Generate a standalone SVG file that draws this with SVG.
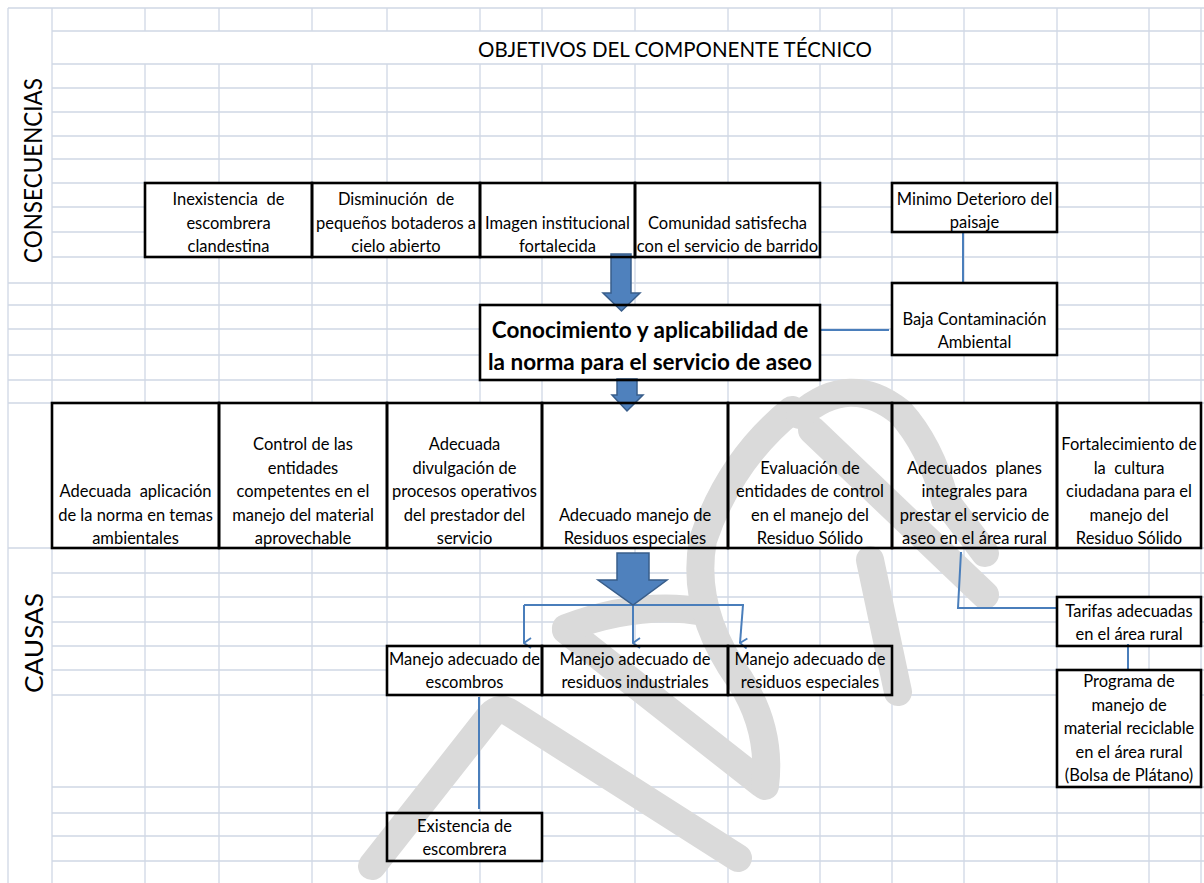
<svg xmlns="http://www.w3.org/2000/svg" width="1204" height="883" viewBox="0 0 1204 883">
<defs>
<style>
.g{stroke:#d0d7e5;stroke-width:1.3;fill:none}
.box{fill:#fff;stroke:none}
.bd{fill:none;stroke:#000;stroke-width:2.6}
.t{font-family:Lato,"Liberation Sans",sans-serif;font-size:16.5px;fill:#000;text-anchor:middle}
.tb{font-family:Lato,"Liberation Sans",sans-serif;font-size:22.5px;font-weight:bold;fill:#000;text-anchor:middle}
.big{font-family:Lato,"Liberation Sans",sans-serif;font-size:25px;fill:#000;text-anchor:middle}
.pre{white-space:pre}
.c{stroke:#4a7ebb;stroke-width:2;fill:none}
.ba{fill:#4f81bd;stroke:#385d8a;stroke-width:1.5}
.wm{fill:none;stroke:#dadada;stroke-width:28;stroke-linecap:round;stroke-linejoin:round}
</style>
<marker id="ah" viewBox="0 0 12 12" refX="6" refY="11" markerWidth="12" markerHeight="12" markerUnits="userSpaceOnUse" orient="auto-start-reverse">
<path d="M1 4 L6 11 L11 4" fill="none" stroke="#4a7ebb" stroke-width="1.8"/>
</marker>
</defs>
<rect width="1204" height="883" fill="#fff"/>
<g id="grid">
<path class="g" d="M8 8V883M52 8V883M145 8V31M145 64V883M219 8V31M219 64V883M312 8V31M312 64V883M387 8V31M387 64V883M480 8V31M480 64V883M542 8V31M542 64V883M635 8V31M635 64V883M728 8V31M728 64V883M820 8V31M820 64V883M892 8V883M964 8V883M1057 8V883M1149 8V883M1201 8V883"/>
<path class="g" d="M8 8H1204M52 31H1204M52 64H1204M52 88H1204M52 112H1204M52 136H1204M52 159H1204M52 183H1204M52 207H1204M52 232H1204M52 257H1204M8 283H1204M8 305H1204M8 329H1204M8 355H1204M8 380H1204M8 403H1204M8 548H1204M52 573H1204M52 597H1204M52 622H1204M52 646H1204M52 670H1204M52 695H1204M52 787H1204M52 813H1204M52 836H1204M52 861H1204"/>
</g>
<g id="fills">
<rect class="box" x="145" y="183" width="675" height="74"/>
<rect class="box" x="892" y="183" width="165" height="49"/>
<rect class="box" x="892" y="283" width="165" height="72"/>
<rect class="box" x="480" y="305" width="340" height="75"/>
<rect class="box" x="52" y="403" width="1149" height="145"/>
<rect class="box" x="387" y="646" width="505" height="49"/>
<rect class="box" x="387" y="813" width="155" height="48"/>
<rect class="box" x="1057" y="597" width="144" height="49"/>
<rect class="box" x="1057" y="670" width="144" height="117"/>
</g>
<g id="watermark">
<path class="wm" d="M372 866 L490 716 Q500 705 512 714 L738 858"/>
<path class="wm" d="M566 630 L762 784"/>
<path class="wm" d="M566 628 Q640 600 705 612"/>
<path class="wm" d="M792 410 Q730 460 703 540 Q690 610 740 680 Q772 730 765 786"/>
<path class="wm" d="M812 430 L985 595"/>
<path class="wm" d="M800 415 Q850 372 900 412 Q930 445 945 500 L985 553"/>
<path class="wm" d="M870 560 Q885 630 898 692"/>
</g>
<text class="big" transform="translate(42,170.5) rotate(-90)" textLength="185" lengthAdjust="spacingAndGlyphs">CONSECUENCIAS</text>
<text class="big" transform="translate(43,643) rotate(-90)" textLength="100" lengthAdjust="spacingAndGlyphs">CAUSAS</text>
<text class="big" x="675" y="57" style="font-size:21.5px" textLength="394" lengthAdjust="spacingAndGlyphs">OBJETIVOS DEL COMPONENTE TÉCNICO</text>
<g id="connectors">
<path class="c" d="M963 233V282"/>
<path class="c" d="M820 330H889"/>
<path class="c" d="M524 605H744"/>
<path class="c" d="M524 605V643" marker-end="url(#ah)"/>
<path class="c" d="M633 605V643" marker-end="url(#ah)"/>
<path class="c" d="M743 605L740 643" marker-end="url(#ah)"/>
<path class="c" d="M479 697V809"/>
<path class="c" d="M961 552L958 608H1056"/>
<path class="c" d="M1128 644V669"/>
<path class="ba" d="M611 254H631V293H640L621.5 311L603 293H611Z"/>
<path class="ba" d="M617 379H637V395H643L627 411L612 395H617Z"/>
<path class="ba" d="M617 553H649V580H667L633 605L598 580H617Z"/>
</g>
<g id="n-inexistencia"><rect class="bd" x="145" y="183" width="167" height="74"/><text class="t"><tspan x="228.5" y="205" class="pre">Inexistencia  de</tspan><tspan x="228.5" y="229">escombrera</tspan><tspan x="228.5" y="252">clandestina</tspan></text></g>
<g id="n-disminucion"><rect class="bd" x="312" y="183" width="168" height="74"/><text class="t"><tspan x="396" y="205" class="pre">Disminución  de</tspan><tspan x="396" y="229">pequeños botaderos a</tspan><tspan x="396" y="252">cielo abierto</tspan></text></g>
<g id="n-imagen"><rect class="bd" x="480" y="183" width="155" height="74"/><text class="t"><tspan x="557.5" y="229">Imagen institucional</tspan><tspan x="557.5" y="252">fortalecida</tspan></text></g>
<g id="n-comunidad"><rect class="bd" x="635" y="183" width="185" height="74"/><text class="t"><tspan x="727.5" y="229">Comunidad satisfecha</tspan><tspan x="727.5" y="252">con el servicio de barrido</tspan></text></g>
<g id="n-minimo"><rect class="bd" x="892" y="183" width="165" height="49"/><text class="t"><tspan x="974.5" y="205">Minimo Deterioro del</tspan><tspan x="974.5" y="228">paisaje</tspan></text></g>
<g id="n-baja"><rect class="bd" x="892" y="283" width="165" height="72"/><text class="t"><tspan x="974.5" y="325">Baja Contaminación</tspan><tspan x="974.5" y="348">Ambiental</tspan></text></g>
<g id="n-central"><rect class="bd" x="480" y="305" width="340" height="75"/><text class="tb"><tspan x="650" y="338">Conocimiento y aplicabilidad de</tspan><tspan x="650" y="370">la norma para el servicio de aseo</tspan></text></g>
<g id="n-c1"><rect class="bd" x="52" y="403" width="167" height="145"/><text class="t"><tspan x="135.5" y="497" class="pre">Adecuada  aplicación</tspan><tspan x="135.5" y="521">de la norma en temas</tspan><tspan x="135.5" y="544">ambientales</tspan></text></g>
<g id="n-c2"><rect class="bd" x="219" y="403" width="168" height="145"/><text class="t"><tspan x="303" y="450">Control de las</tspan><tspan x="303" y="474">entidades</tspan><tspan x="303" y="497">competentes en el</tspan><tspan x="303" y="521">manejo del material</tspan><tspan x="303" y="544">aprovechable</tspan></text></g>
<g id="n-c3"><rect class="bd" x="387" y="403" width="155" height="145"/><text class="t"><tspan x="464.5" y="450">Adecuada</tspan><tspan x="464.5" y="474">divulgación de</tspan><tspan x="464.5" y="497">procesos operativos</tspan><tspan x="464.5" y="521">del prestador del</tspan><tspan x="464.5" y="544">servicio</tspan></text></g>
<g id="n-c4"><rect class="bd" x="542" y="403" width="186" height="145"/><text class="t"><tspan x="635" y="521">Adecuado manejo de</tspan><tspan x="635" y="544">Residuos especiales</tspan></text></g>
<g id="n-c5"><rect class="bd" x="728" y="403" width="164" height="145"/><text class="t"><tspan x="810" y="474">Evaluación de</tspan><tspan x="810" y="497">entidades de control</tspan><tspan x="810" y="521">en el manejo del</tspan><tspan x="810" y="544">Residuo Sólido</tspan></text></g>
<g id="n-c6"><rect class="bd" x="892" y="403" width="165" height="145"/><text class="t"><tspan x="974.5" y="474" class="pre">Adecuados  planes</tspan><tspan x="974.5" y="497">integrales para</tspan><tspan x="974.5" y="521">prestar el servicio de</tspan><tspan x="974.5" y="544">aseo en el área rural</tspan></text></g>
<g id="n-c7"><rect class="bd" x="1057" y="403" width="144" height="145"/><text class="t"><tspan x="1129" y="450">Fortalecimiento de</tspan><tspan x="1129" y="474" class="pre">la  cultura</tspan><tspan x="1129" y="497">ciudadana para el</tspan><tspan x="1129" y="521">manejo del</tspan><tspan x="1129" y="544">Residuo Sólido</tspan></text></g>
<g id="n-escombros"><rect class="bd" x="387" y="646" width="155" height="49"/><text class="t"><tspan x="464.5" y="665">Manejo adecuado de</tspan><tspan x="464.5" y="688">escombros</tspan></text></g>
<g id="n-industriales"><rect class="bd" x="542" y="646" width="186" height="49"/><text class="t"><tspan x="635" y="665">Manejo adecuado de</tspan><tspan x="635" y="688">residuos industriales</tspan></text></g>
<g id="n-especiales"><rect class="bd" x="728" y="646" width="164" height="49"/><text class="t"><tspan x="810" y="665">Manejo adecuado de</tspan><tspan x="810" y="688">residuos especiales</tspan></text></g>
<g id="n-existencia"><rect class="bd" x="387" y="813" width="155" height="48"/><text class="t"><tspan x="464.5" y="832">Existencia de</tspan><tspan x="464.5" y="855">escombrera</tspan></text></g>
<g id="n-tarifas"><rect class="bd" x="1057" y="597" width="144" height="49"/><text class="t"><tspan x="1129" y="617">Tarifas adecuadas</tspan><tspan x="1129" y="640">en el área rural</tspan></text></g>
<g id="n-programa"><rect class="bd" x="1057" y="670" width="144" height="117"/><text class="t"><tspan x="1129" y="687">Programa de</tspan><tspan x="1129" y="711">manejo de</tspan><tspan x="1129" y="734">material reciclable</tspan><tspan x="1129" y="758">en el área rural</tspan><tspan x="1129" y="781">(Bolsa de Plátano)</tspan></text></g>
</svg>
